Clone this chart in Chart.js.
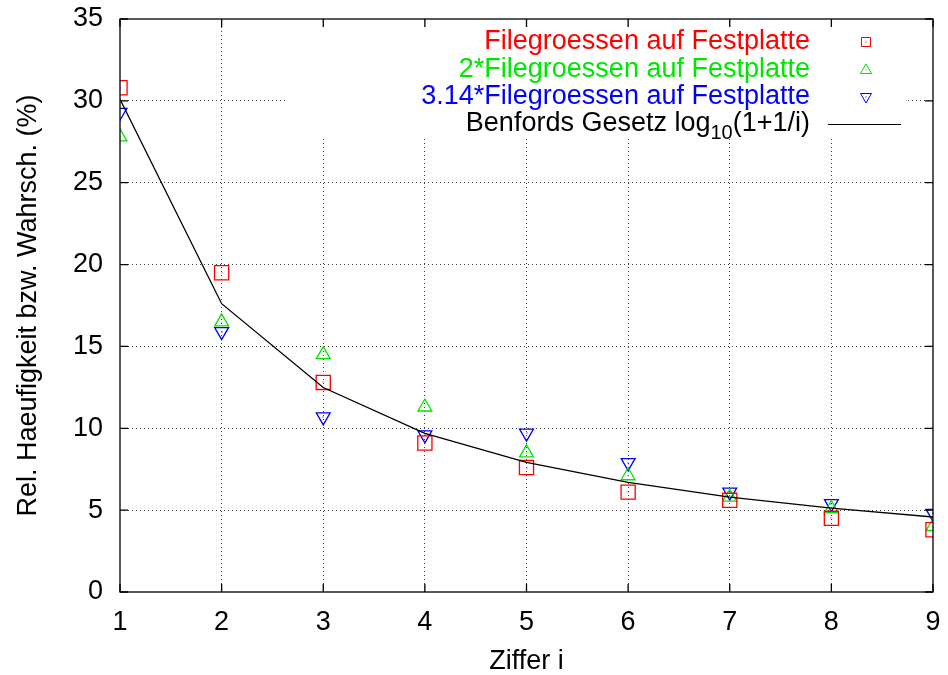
<!DOCTYPE html>
<html>
<head>
<meta charset="utf-8">
<script src="https://cdn.jsdelivr.net/npm/chart.js@4.4.1/dist/chart.umd.min.js"></script>
<style>
  html, body { margin: 0; padding: 0; background: #fff; }
  #wrap { width: 948px; height: 675px; }
</style>
</head>
<body>
<div id="wrap"><canvas id="benford"></canvas></div>
<script>
// first digit i
const digits = [1, 2, 3, 4, 5, 6, 7, 8, 9];
// relative frequencies in percent
const fileSizes    = [30.8, 19.5, 12.8, 9.1, 7.6, 6.1, 5.6, 4.5, 3.8];
const fileSizes2   = [27.8, 16.5, 14.5, 11.3, 8.5, 7.1, 5.8, 5.1, 4.0];
const fileSizes314 = [29.3, 15.9, 10.7, 9.6, 9.7, 7.9, 6.1, 5.4, 4.8];
// Benford's law log10(1+1/i) in percent
const benford      = [30.10, 17.61, 12.49, 9.69, 7.92, 6.69, 5.80, 5.12, 4.58];
const yTicks = [0, 5, 10, 15, 20, 25, 30, 35];

const RED = '#ff0000', GREEN = '#00e600', BLUE = '#0000ff';
const FONT = 'Liberation Sans, Arial, Helvetica, sans-serif';
const FS = 27;

function pts(values) {
    return digits.map((d, i) => ({ x: d, y: values[i] }));
}

// white box behind the key, frame, inward ticks and the key itself
const gnuplotLook = {
    id: 'gnuplotLook',
    beforeDatasetsDraw(chart) {
        const ctx = chart.ctx;
        const a = chart.chartArea;
        ctx.save();
        ctx.fillStyle = '#fff';
        ctx.fillRect(286, a.top + 1, 619, 117);

        ctx.font = FS + 'px ' + FONT;
        ctx.textAlign = 'right';
        ctx.textBaseline = 'middle';
        const rows = [
            { text: 'Filegroessen auf Festplatte', color: RED, y: 42 },
            { text: '2*Filegroessen auf Festplatte', color: GREEN, y: 70 },
            { text: '3.14*Filegroessen auf Festplatte', color: BLUE, y: 97 }
        ];
        const sx = 866;
        rows.forEach((r, i) => {
            ctx.fillStyle = r.color;
            ctx.fillText(r.text, 810, r.y);
            ctx.strokeStyle = r.color;
            ctx.lineWidth = 1;
            ctx.beginPath();
            if (i === 0) {
                ctx.rect(sx - 4.5, r.y - 4.5, 9, 9);
            } else if (i === 1) {
                ctx.moveTo(sx, r.y - 6); ctx.lineTo(sx + 5.5, r.y + 3.5); ctx.lineTo(sx - 5.5, r.y + 3.5); ctx.closePath();
            } else {
                ctx.moveTo(sx, r.y + 6); ctx.lineTo(sx + 5.5, r.y - 3.5); ctx.lineTo(sx - 5.5, r.y - 3.5); ctx.closePath();
            }
            ctx.stroke();
            ctx.fillStyle = r.color;
            ctx.fillRect(sx - 0.5, r.y - 0.5, 1, 1);
        });

        // Benford entry with subscript
        ctx.fillStyle = '#000';
        const y4 = 124;
        const tail = '(1+1/i)';
        ctx.fillText(tail, 810, y4);
        let x = 810 - ctx.measureText(tail).width;
        ctx.font = Math.round(FS * 0.75) + 'px ' + FONT;
        ctx.fillText('10', x, y4 + 9);
        x -= ctx.measureText('10').width;
        ctx.font = FS + 'px ' + FONT;
        ctx.fillText('Benfords Gesetz log', x, y4);
        ctx.strokeStyle = '#000';
        ctx.lineWidth = 1.2;
        ctx.beginPath();
        ctx.moveTo(828, y4 + 0.5);
        ctx.lineTo(901, y4 + 0.5);
        ctx.stroke();
        ctx.restore();
    },
    afterDatasetsDraw(chart) {
        const ctx = chart.ctx;
        const a = chart.chartArea;
        const xs = chart.scales.x, ys = chart.scales.y;
        ctx.save();
        // centre dots of the symbols
        [RED, GREEN, BLUE].forEach((c, di) => {
            chart.getDatasetMeta(di + 1).data.forEach(el => {
                ctx.fillStyle = c;
                ctx.fillRect(Math.round(el.x) - 0.5, Math.round(el.y) - 0.5, 1, 1);
            });
        });
        ctx.strokeStyle = '#000';
        ctx.lineWidth = 1.3;
        ctx.strokeRect(a.left, a.top, a.right - a.left, a.bottom - a.top);
        ctx.beginPath();
        digits.forEach(d => {
            const px = xs.getPixelForValue(d);
            ctx.moveTo(px, a.bottom); ctx.lineTo(px, a.bottom - 8);
            ctx.moveTo(px, a.top); ctx.lineTo(px, a.top + 8);
        });
        yTicks.forEach(v => {
            const py = ys.getPixelForValue(v);
            ctx.moveTo(a.left, py); ctx.lineTo(a.left + 8, py);
            ctx.moveTo(a.right, py); ctx.lineTo(a.right - 8, py);
        });
        ctx.stroke();
        ctx.restore();
    }
};

new Chart(document.getElementById('benford'), {
    type: 'scatter',
    data: {
        datasets: [
            {
                type: 'line',
                label: 'Benfords Gesetz log10(1+1/i)',
                data: pts(benford),
                borderColor: '#000',
                borderWidth: 1.3,
                pointRadius: 0,
                tension: 0,
                fill: false
            },
            {
                label: 'Filegroessen auf Festplatte',
                data: pts(fileSizes),
                pointStyle: 'rect',
                pointRadius: 10,
                borderColor: RED,
                backgroundColor: 'rgba(0,0,0,0)',
                borderWidth: 1.3
            },
            {
                label: '2*Filegroessen auf Festplatte',
                data: pts(fileSizes2),
                pointStyle: 'triangle',
                pointRadius: 8,
                borderColor: GREEN,
                backgroundColor: 'rgba(0,0,0,0)',
                borderWidth: 1.3
            },
            {
                label: '3.14*Filegroessen auf Festplatte',
                data: pts(fileSizes314),
                pointStyle: 'triangle',
                rotation: 180,
                pointRadius: 8,
                borderColor: BLUE,
                backgroundColor: 'rgba(0,0,0,0)',
                borderWidth: 1.3
            }
        ]
    },
    options: {
        responsive: true,
        maintainAspectRatio: false,
        animation: false,
        layout: { padding: { top: 19, right: 15, left: 0, bottom: 0 } },
        plugins: {
            legend: { display: false },
            tooltip: { enabled: false }
        },
        scales: {
            x: {
                type: 'linear',
                min: 1,
                max: 9,
                afterFit: s => { s.height = 83; s.paddingLeft = 0; s.paddingRight = 0; },
                ticks: { stepSize: 1, color: '#000', font: { family: FONT, size: FS }, padding: 14 },
                grid: { color: c => (c.index === 0 || c.index === 8) ? 'rgba(0,0,0,0)' : 'rgba(0,0,0,0.75)', drawTicks: false, lineWidth: 1 },
                border: { display: false, dash: [1, 3] },
                title: { display: true, text: 'Ziffer i', color: '#000', font: { family: FONT, size: FS }, padding: { top: 0, bottom: -3 } }
            },
            y: {
                min: 0,
                max: 35,
                afterFit: s => { s.width = 120; s.paddingTop = 0; s.paddingBottom = 0; },
                ticks: { stepSize: 5, color: '#000', font: { family: FONT, size: FS }, padding: 17 },
                grid: { color: c => (c.index === 0 || c.index === 7) ? 'rgba(0,0,0,0)' : 'rgba(0,0,0,0.75)', drawTicks: false, lineWidth: 1 },
                border: { display: false, dash: [1, 3] },
                title: { display: true, text: 'Rel. Haeufigkeit bzw. Wahrsch. (%)', color: '#000', font: { family: FONT, size: FS }, padding: { top: 12, bottom: 0 } }
            }
        }
    },
    plugins: [gnuplotLook]
});
</script>
</body>
</html>
